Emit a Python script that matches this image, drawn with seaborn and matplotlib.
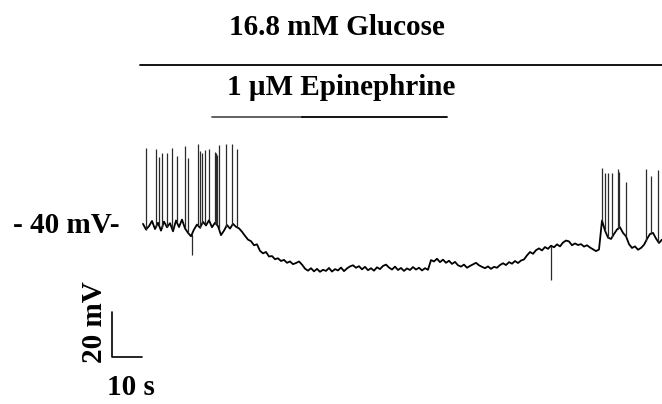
import numpy as np
import pandas as pd
import seaborn as sns
import matplotlib.pyplot as plt

# membrane potential trace (mV), one sample per second
voltage = [
    -39.5, -42.0, -40.5, -38.2, -41.8, -39.0, -42.5, -38.5, -41.0, -39.2,
    -42.8, -38.0, -40.9, -37.6, -41.5, -43.5, -45.0, -42.0, -39.8, -41.2,
    -38.6, -40.2, -37.9, -41.0, -39.0, -40.5, -44.5, -42.5, -40.0, -41.6,
    -39.5, -40.8, -41.5, -43.0, -44.8, -46.5, -47.2, -49.0, -48.6, -51.5,
    -52.6, -52.0, -54.0, -53.8, -55.2, -54.8, -56.0, -55.5, -56.8, -56.2,
    -57.4, -56.9, -56.2, -57.6, -59.4, -60.3, -59.2, -60.6, -59.5, -60.8,
    -59.9, -60.4, -59.1, -60.7, -59.6, -60.2, -58.9, -60.5, -59.3, -58.4,
    -57.9, -59.0, -58.3, -59.7, -58.6, -60.1, -59.2, -60.3, -58.8, -59.6,
    -58.2, -57.6, -58.9, -59.8, -58.5, -60.0, -59.1, -60.4, -59.3, -60.0,
    -58.7, -59.8, -59.0, -60.2, -59.2, -59.9, -55.6, -56.2, -55.0, -56.5,
    -55.4, -56.8, -55.9, -57.3, -56.4, -57.9, -58.5, -57.6, -59.0, -58.2,
    -57.5, -56.8, -57.9, -58.6, -59.2, -58.4, -59.5, -58.6, -59.0, -57.8,
    -57.0, -57.8, -56.5, -57.2, -56.0, -56.9, -55.8, -55.3, -53.5, -52.0,
    -52.8, -51.2, -50.4, -51.3, -49.8, -50.6, -49.2, -49.9, -48.6, -49.5,
    -47.8, -46.9, -47.3, -49.0, -48.2, -48.9, -48.5, -49.6, -49.0, -50.0,
    -50.8, -51.6, -50.9, -38.0, -42.5, -45.6, -46.2, -44.0, -42.0, -41.0,
    -43.5, -45.0, -48.5, -50.2, -49.5, -51.0, -50.2, -48.8, -46.2, -44.0,
    -43.5, -46.0, -48.0, -46.5,
]
time = np.arange(len(voltage))  # s

# action potentials: time (s) and peak (mV)
spike_time = [1.0, 4.3, 5.3, 6.3, 8.0, 9.7, 11.3, 14.0, 15.0, 18.3, 19.0,
              19.7, 20.7, 22.0, 24.0, 24.3, 24.7, 25.3, 27.7, 29.7, 31.3,
              153.0, 154.0, 155.0, 156.3, 158.3, 158.7, 161.0, 167.7, 169.3, 171.7]
spike_peak = [-5.8, -6.2, -9.8, -8.0, -8.0, -5.8, -9.3, -4.9, -10.2, -4.0, -7.1,
              -8.0, -6.7, -6.2, -7.6, -8.0, -8.9, -4.4, -4.0, -4.0, -6.2,
              -14.7, -16.9, -16.9, -16.9, -15.1, -16.4, -20.9, -15.1, -18.2, -15.6]
# downward transients
dip_time = [16.3, 136.0]
dip_min = [-53.3, -64.4]

glucose_on, glucose_off = -1.0, 173.0
epi_on, epi_off = 23.0, 101.3
scale_t, scale_v = 10, 20  # s, mV


# layout helpers: pixel -> data units
def px_t(x):
    return (x - 143) / 3.0


def px_v(y):
    return -40 - (y - 225) / 2.25


df = pd.DataFrame({"t": time, "v": voltage})

sns.set_style("white")
plt.rcParams["font.family"] = ["Liberation Serif", "DejaVu Serif"]

fig = plt.figure(figsize=(6.62, 4.04), dpi=100)
ax = fig.add_axes([0, 0, 1, 1])

sns.lineplot(data=df, x="t", y="v", color="black", lw=1.3, estimator=None, ax=ax)
base = np.interp(spike_time, time, voltage)
ax.vlines(spike_time, base, spike_peak, color="#2a2a2a", lw=0.9)
ax.vlines(dip_time, np.interp(dip_time, time, voltage), dip_min, color="#2a2a2a", lw=0.9)

# solution bars
ax.plot([glucose_on, glucose_off], [px_v(65)] * 2, color="black", lw=1.3)
ax.plot([epi_on, px_t(302)], [px_v(117)] * 2, color="#555555", lw=1.3)
ax.plot([px_t(302), epi_off], [px_v(117)] * 2, color="black", lw=1.3)

# scale bar
t0, v0 = px_t(112), px_v(357)
ax.plot([t0, t0, t0 + scale_t], [v0 + scale_v, v0, v0], color="black", lw=1.2)

ax.set_xlim(px_t(0), px_t(662))
ax.set_ylim(px_v(404), px_v(0))
ax.axis("off")

kw = dict(fontsize=21, fontweight="bold", color="black")
ax.text(px_t(337), px_v(35), "16.8 mM Glucose", ha="center", va="baseline", **kw)
ax.text(px_t(341), px_v(95), "1 \u00b5M Epinephrine", ha="center", va="baseline", **kw)
ax.text(px_t(13), px_v(233), "- 40 mV-", ha="left", va="baseline", **kw)
ax.text(px_t(107), px_v(395), "10 s", ha="left", va="baseline", **kw)
ax.text(px_t(95), px_v(322), "20 mV", ha="center", va="center", rotation=90, **kw)

fig.savefig("out.png", dpi=100)
